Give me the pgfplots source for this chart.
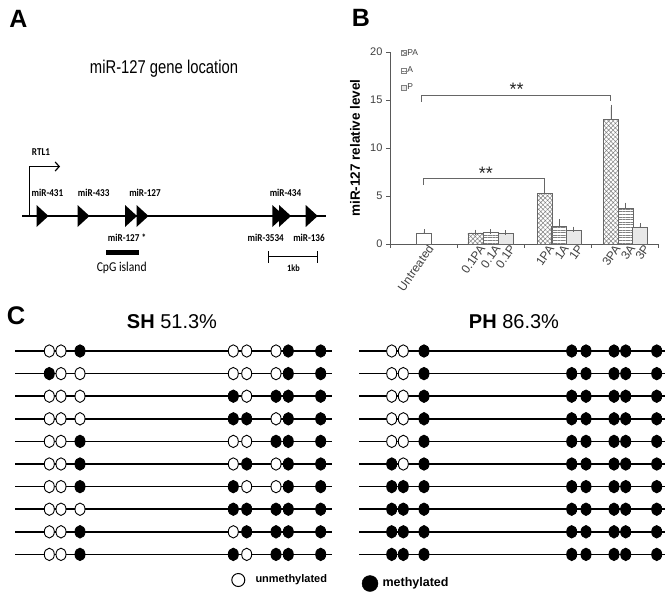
\documentclass[border=0pt]{standalone}
\usepackage{fontspec}
\setmainfont{Liberation Sans}
\newfontfamily\calib{Carlito}
\usepackage{pgfplots}
\pgfplotsset{compat=1.18}
\usepackage{pgfplotstable}
\usetikzlibrary{patterns.meta,arrows.meta}

% gene marker (right-pointing triangle) and CpG ellipses
\pgfdeclareplotmark{tri}{%
  \pgfpathmoveto{\pgfqpoint{-6bp}{11bp}}%
  \pgfpathlineto{\pgfqpoint{6bp}{0bp}}%
  \pgfpathlineto{\pgfqpoint{-6bp}{-11bp}}%
  \pgfpathclose\pgfusepathqfill}
\pgfdeclareplotmark{ellO}{%
  \pgfsetfillcolor{white}\pgfsetstrokecolor{black}\pgfsetlinewidth{0.9bp}%
  \pgfpathellipse{\pgfpointorigin}{\pgfqpoint{5bp}{0bp}}{\pgfqpoint{0bp}{6.2bp}}%
  \pgfusepathqfillstroke}
\pgfdeclareplotmark{ellF}{%
  \pgfsetfillcolor{black}\pgfsetstrokecolor{black}\pgfsetlinewidth{0.9bp}%
  \pgfpathellipse{\pgfpointorigin}{\pgfqpoint{5bp}{0bp}}{\pgfqpoint{0bp}{6.2bp}}%
  \pgfusepathqfillstroke}

% narrow bold labels of the gene map
\newcommand\lab[1]{\scalebox{0.87}[1]{\calib\bfseries\fontsize{10.5bp}{11bp}\selectfont #1}}

\pgfplotsset{
  cpg/.style={only marks, scatter, scatter src=explicit symbolic,
    scatter/classes={0={mark=ellO,draw=black,fill=white},1={mark=ellF,draw=black,fill=black}}},
  row/.style={black, line width=1.5bp},
  bars/.style={ybar, bar width=0.224, bar shift=0pt, draw=gray!80!black, line width=0.5bp,
    error bars/y dir=plus, error bars/y explicit,
    error bars/error bar style={gray!80!black, line width=0.6bp},
    error bars/error mark options={gray!80!black, mark size=2.5bp, line width=0.6bp},
    legend image code/.code={\draw[##1, draw=gray, line width=0.4bp] (0bp,-2.5bp) rectangle (5bp,2.5bp);}},
}

% methylation status of the 8 CpG sites, 10 clones each
\pgfplotstableread{
y c1 c2 c3 c4 c5 c6 c7 c8
351.0 0 0 1 0 0 0 1 1
373.6 1 0 0 0 0 0 1 1
396.2 0 0 0 1 0 1 1 1
418.8 0 0 0 1 1 0 1 1
441.4 0 0 1 0 0 1 1 1
464.0 0 0 1 0 1 0 1 1
486.6 0 0 1 1 0 0 1 1
509.2 0 0 0 1 1 1 1 1
531.8 0 0 1 0 1 1 1 1
554.4 0 0 1 1 0 1 1 1
}\SHdata
\pgfplotstableread{
y c1 c2 c3 c4 c5 c6 c7 c8
351.0 0 0 1 1 1 1 1 1
373.6 0 0 1 1 1 1 1 1
396.2 0 0 1 1 1 1 1 1
418.8 0 0 1 1 1 1 1 1
441.4 0 0 1 1 1 1 1 1
464.0 1 0 1 1 1 1 1 1
486.6 1 1 1 1 1 1 1 1
509.2 1 1 1 1 1 1 1 1
531.8 1 1 1 1 1 1 1 1
554.4 1 1 1 1 1 1 1 1
}\PHdata

\begin{document}
\begin{tikzpicture}
\path[use as bounding box] (0,0) rectangle (671bp,594bp);

% ---------- panels A and C (pixel grid, y down) ----------
\begin{axis}[at={(0,0)}, anchor=south west, scale only axis,
  width=671bp, height=594bp, xmin=0, xmax=671, ymin=0, ymax=594,
  y dir=reverse, hide axis, clip=false]

\node[font=\bfseries\fontsize{25bp}{25bp}\selectfont] at (18.3,19.2) {A};
\node[font=\bfseries\fontsize{25bp}{25bp}\selectfont] at (361,17.5) {B};
\node[font=\bfseries\fontsize{25.5bp}{25bp}\selectfont] at (16,316) {C};

% A: gene map
\node at (164,68.3) {\scalebox{0.8}[1]{\fontsize{18.5bp}{20bp}\selectfont miR-127 gene location}};
\addplot[black, line width=2.5bp] coordinates {(22,216) (326,216)};
\addplot[black, line width=1.2bp, -{Straight Barb[length=4bp,width=9bp]}]
  coordinates {(29.3,216) (29.3,166.5) (60,166.5)};
\addplot[only marks, mark=tri, black]
  coordinates {(42.5,216) (83.5,216) (131,216) (142.5,216) (278.3,216) (285,216) (311.7,216)};
\addplot[black, line width=4.5bp] coordinates {(106,252.5) (139.3,252.5)};
\addplot[black, line width=1.3bp] coordinates {(268.3,256.8) (317.7,256.8)};
\addplot[black, line width=1.3bp] coordinates {(268.3,251) (268.3,262.7)};
\addplot[black, line width=1.3bp] coordinates {(317.7,251) (317.7,262.7)};

\node at (41,152) {\lab{RTL1}};
\node at (47.5,193) {\lab{miR-431}};
\node at (93.7,193) {\lab{miR-433}};
\node at (145,193) {\lab{miR-127}};
\node at (285.5,193) {\lab{miR-434}};
\node at (127,237.5) {\lab{miR-127 *}};
\node at (265.8,238) {\lab{miR-3534}};
\node at (309,238) {\lab{miR-136}};
\node at (121.7,268) {\scalebox{0.86}[1]{\calib\fontsize{13.5bp}{14bp}\selectfont CpG island}};
\node at (293.5,268) {\scalebox{0.87}[1]{\calib\bfseries\fontsize{9.5bp}{10bp}\selectfont 1kb}};

% C: bisulfite clones
\node[font=\fontsize{20bp}{20bp}\selectfont] at (172,321.7) {\textbf{SH} 51.3\%};
\node[font=\fontsize{20bp}{20bp}\selectfont] at (514,321.7) {\textbf{PH} 86.3\%};

\pgfplotsinvokeforeach{351.0,373.6,396.2,418.8,441.4,464.0,486.6,509.2,531.8,554.4}{
  \addplot[row] coordinates {(15,#1) (331.7,#1)};
  \addplot[row] coordinates {(359.3,#1) (665,#1)};
}
\pgfplotsforeachungrouped \i/\xp in {1/49.3,2/61,3/80,4/233.3,5/246.7,6/276,7/288.3,8/320.7}{%
  \edef\tmp{\noexpand\addplot[cpg] table[x expr=\xp, y=y, meta=c\i] {\noexpand\SHdata};}\tmp
}
\pgfplotsforeachungrouped \i/\xp in {1/391.7,2/403.3,3/424,4/571.7,5/586,6/614,7/625.7,8/656.7}{%
  \edef\tmp{\noexpand\addplot[cpg] table[x expr=\xp, y=y, meta=c\i] {\noexpand\PHdata};}\tmp
}

\addplot[only marks, mark=*, mark size=6.5bp, mark options={fill=white, draw=black, line width=1bp}]
  coordinates {(238.3,580)};
\node[anchor=west, font=\bfseries\fontsize{11bp}{12bp}\selectfont] at (252,580) {unmethylated};
\addplot[only marks, mark=*, mark size=8bp, mark options={fill=black, draw=black}]
  coordinates {(370,583.5)};
\node[anchor=west, font=\bfseries\fontsize{12.5bp}{13bp}\selectfont] at (379,583.5) {methylated};
\end{axis}

% ---------- panel B: bar chart ----------
\begin{axis}[at={(390bp,350bp)}, anchor=south west, scale only axis,
  width=268bp, height=192bp, xmin=0, xmax=4, ymin=0, ymax=20,
  axis x line*=bottom, axis y line*=left, clip=false,
  axis line style={gray!70!black, line width=0.8bp},
  tick align=outside, major tick length=4bp,
  tick style={gray!70!black, line width=0.8bp},
  xtick={0,1,2,3,4}, xticklabels={},
  ytick={0,5,10,15,20},
  /pgf/number format/assume math mode=true,
  yticklabel style={font=\fontsize{11bp}{12bp}\selectfont, text=black!75},
  extra x ticks={0.505,1.276,1.504,1.728,2.306,2.525,2.74,3.296,3.515,3.73},
  extra x tick labels={Untreated,0.1PA,0.1A,0.1P,1PA,1A,1P,3PA,3A,3P},
  extra x tick style={major tick length=0pt},
  x tick label style={rotate=55, anchor=east, inner sep=0pt, xshift=2bp, yshift=-7bp,
    font=\fontsize{12bp}{12bp}\selectfont, text=black!75},
  ylabel={miR-127 relative level},
  ylabel style={at={(axis description cs:-0.13,0.5)}, anchor=center,
    font=\bfseries\fontsize{13.5bp}{14bp}\selectfont},
  legend style={draw=none, fill=none, at={(0.04,1.02)}, anchor=north west,
    font=\fontsize{8.5bp}{9bp}\selectfont, row sep=8bp, inner sep=0pt,
    nodes={inner sep=1bp, text=black!75}},
  legend cell align=left,
]
\addplot[bars, fill=white, forget plot] coordinates {(0.505,1.1) +- (0,0.2)};
\addplot[bars, pattern={Hatch[angle=45,distance=3.2bp,line width=0.5bp]}, pattern color=gray]
  coordinates {(1.276,1.15) +- (0,0.08) (2.306,5.25) +- (0,0.6) (3.296,13.0) +- (0,1.25)};
\addplot[bars, pattern={Lines[angle=0,distance=2.6bp,line width=0.6bp]}, pattern color=gray]
  coordinates {(1.504,1.2) +- (0,0.05) (2.525,1.85) +- (0,0.45) (3.515,3.75) +- (0,0.3)};
\addplot[bars, fill=gray!18]
  coordinates {(1.728,1.08) +- (0,0.08) (2.74,1.4) +- (0,0.15) (3.73,1.75) +- (0,0.15)};
\legend{PA,A,P}

\addplot[gray!80!black, line width=0.6bp, forget plot]
  coordinates {(0.5,6.15) (0.5,6.85) (2.3,6.85) (2.3,5.97)};
\addplot[gray!80!black, line width=0.6bp, forget plot]
  coordinates {(0.47,14.8) (0.47,15.5) (3.29,15.5) (3.29,14.9)};
\node[anchor=base, font=\fontsize{18bp}{18bp}\selectfont, text=black!85] at (axis cs:1.43,6.7) {**};
\node[anchor=base, font=\fontsize{18bp}{18bp}\selectfont, text=black!85] at (axis cs:1.89,15.45) {**};
\end{axis}
\end{tikzpicture}
\end{document}
